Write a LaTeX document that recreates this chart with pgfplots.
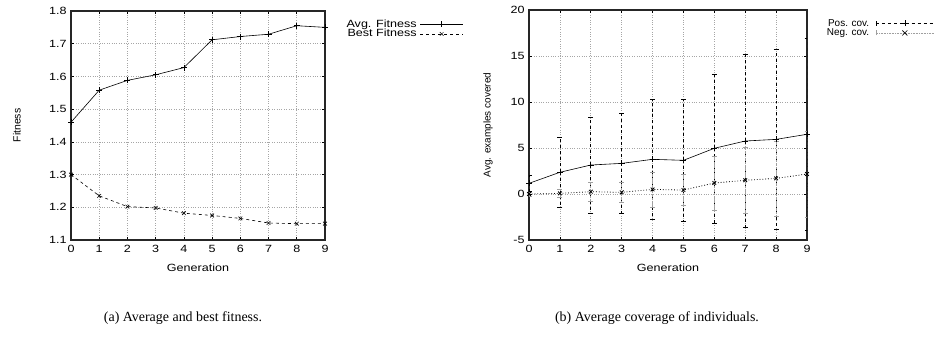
\documentclass[border=0pt]{standalone}
\usepackage{fontspec}
\setmainfont{Liberation Serif}
\setsansfont[FakeStretch=1.2]{Liberation Sans}
\newfontfamily\gpplain{Liberation Sans}
\usepackage{pgfplots}
\usepackage{pgfplotstable}
\pgfplotsset{compat=1.18}

\pgfplotstableread{
x avg best
0 1.460 1.300
1 1.558 1.235
2 1.588 1.202
3 1.605 1.198
4 1.627 1.182
5 1.712 1.175
6 1.722 1.166
7 1.729 1.152
8 1.755 1.150
9 1.750 1.150
}\fitdata

\pgfplotstableread{
x pos pose neg nege
0 1.16 0.9  0.00 0.20
1 2.36 3.8  0.07 0.45
2 3.15 5.2  0.25 1.00
3 3.33 5.4  0.18 1.05
4 3.77 6.5  0.50 1.90
5 3.66 6.6  0.43 1.70
6 4.97 8.1  1.20 2.95
7 5.76 9.4  1.49 3.60
8 5.94 9.8  1.70 4.06
9 6.49 10.4 2.17 4.70
}\covdata

\pgfplotsset{
  gpstyle/.style={
    scale only axis,
    xmin=0, xmax=9,
    xtick={0,...,9},
    grid=major,
    major grid style={gray!70, dotted, line width=0.6bp},
    axis line style={line width=1.2bp, black!85},
    tick style={black, line width=0.6bp},
    major tick length=3bp,
    tick align=inside,
    ticklabel style={font=\sffamily\fontsize{10.5}{12}\selectfont},
    xticklabel style={yshift=-2bp},
    yticklabel style={xshift=-1bp},
    /pgf/number format/assume math mode=true,
    xlabel={Generation},
    every axis x label/.style={at={(rel axis cs:0.5,0)}, yshift=-28bp, anchor=center,
      font=\sffamily\fontsize{10.5}{12}\selectfont},
    legend cell align=right,
    legend plot pos=right,
    legend style={draw=none, fill=none, inner sep=0pt, row sep=0.3bp, column sep=3bp,
      nodes={inner sep=0.3bp, text height=7.5bp, text depth=1.5bp}},
  }
}

\begin{document}
\begin{tikzpicture}[x=1bp,y=1bp]
\path[use as bounding box] (0,-341) rectangle (934,0);

% ---------- left ----------
\begin{axis}[gpstyle,
  at={(71bp,-240bp)}, anchor=south west,
  width=254bp, height=229bp,
  ymin=1.1, ymax=1.8, ytick={1.1,1.2,...,1.8},
  yticklabel style={/pgf/number format/.cd, fixed, fixed zerofill, precision=1},
  ylabel={Fitness},
  every axis y label/.style={at={(rel axis cs:0,0.5)}, xshift=-54bp, rotate=90, anchor=center,
    font=\gpplain\fontsize{10.5}{12}\selectfont},
  legend style={at={(1.083,0.965)}, anchor=north west,
    font=\sffamily\fontsize{10.5}{10}\selectfont},
  legend image code/.code={
    \draw[#1] (0bp,0bp) -- (43bp,0bp);
    \draw[#1, solid, line width=0.5bp] plot coordinates {(21.5bp,0bp)};
  },
]
\addplot[black, line width=0.6bp, mark=+, mark size=3bp] table[x=x,y=avg] {\fitdata};
\addlegendentry{Avg. Fitness}
\addplot[black, line width=0.6bp, dashed, mark=x, mark size=2.6bp, mark options={solid}] table[x=x,y=best] {\fitdata};
\addlegendentry{Best Fitness}
\end{axis}

% ---------- right ----------
\begin{axis}[gpstyle,
  at={(529bp,-240bp)}, anchor=south west,
  width=278bp, height=230bp,
  ymin=-5, ymax=20, ytick={-5,0,...,20},
  ylabel={Avg. examples covered},
  every axis y label/.style={at={(rel axis cs:0,0.5)}, xshift=-41bp, rotate=90, anchor=center,
    font=\gpplain\fontsize{10}{12}\selectfont},
  legend style={at={(1.07,0.965)}, anchor=north west, column sep=6bp,
    font=\gpplain\fontsize{10}{10}\selectfont},
]
\addplot[forget plot, black, line width=0.6bp, mark=+, mark size=3bp,
  error bars/.cd, y dir=both, y explicit,
  error bar style={black, dashed, line width=0.6bp},
  error mark options={rotate=90, mark size=2.5bp, solid, black}]
  table[x=x,y=pos,y error=pose] {\covdata};
\addplot[forget plot, black, line width=0.8bp, dotted, mark=x, mark size=2.6bp, mark options={solid},
  error bars/.cd, y dir=both, y explicit,
  error bar style={gray!75, densely dotted, line width=0.6bp},
  error mark options={rotate=90, mark size=2.5bp, solid, gray!75}]
  table[x=x,y=neg,y error=nege] {\covdata};
\addlegendimage{legend image code/.code={
    \draw[black, dashed, line width=0.6bp] (0bp,0bp) -- (58bp,0bp);
    \draw[black, line width=0.6bp] (0bp,-2.5bp) -- (0bp,2.5bp) (58bp,-2.5bp) -- (58bp,2.5bp);
    \draw[black, line width=0.6bp] (26bp,0bp) -- (32bp,0bp) (29bp,-3bp) -- (29bp,3bp);
  }}
\addlegendentry{Pos. cov.}
\addlegendimage{legend image code/.code={
    \draw[gray!75, densely dotted, line width=0.6bp] (0bp,0bp) -- (58bp,0bp);
    \draw[gray!75, line width=0.6bp] (0bp,-2.5bp) -- (0bp,2.5bp) (58bp,-2.5bp) -- (58bp,2.5bp);
    \draw[black, line width=0.6bp] (26.5bp,-2.5bp) -- (31.5bp,2.5bp) (26.5bp,2.5bp) -- (31.5bp,-2.5bp);
  }}
\addlegendentry{Neg. cov.}
\end{axis}

\node[font=\rmfamily\fontsize{14}{16}\selectfont] at (183,-318) {(a) Average and best fitness.};
\node[font=\rmfamily\fontsize{14}{16}\selectfont] at (657,-318) {(b) Average coverage of individuals.};
\end{tikzpicture}
\end{document}
